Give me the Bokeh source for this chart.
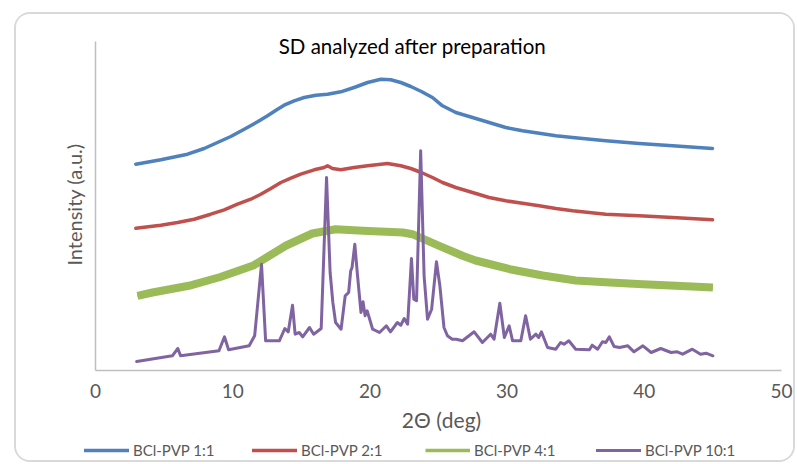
from bokeh.plotting import figure
from bokeh.models import (Range1d, FixedTicker, Label, Legend, LegendItem, InlineStyleSheet,
                          LinearAxis)
from bokeh.embed import file_html
from bokeh.resources import INLINE

# ---- data ----
blue_x = [2.94, 4.76, 6.71, 7.92, 8.89, 9.86, 10.84, 11.81, 12.54, 13.27, 13.75, 14.48, 15.21,
          16.06, 16.91, 17.88, 18.85, 19.83, 20.8, 21.52, 22.25, 22.98, 23.75, 24.56, 25.29,
          26.26, 27.48, 28.69, 29.9, 31.12, 32.34, 33.55, 34.77, 37.19, 39.63, 42.06, 44.97]
blue_y = [206.3, 210.7, 216.3, 222.0, 228.0, 234.0, 241.3, 248.7, 254.7, 261.3, 265.3, 269.7,
          273.0, 275.3, 276.3, 278.7, 283.0, 288.0, 291.3, 290.7, 288.0, 284.0, 279.0, 273.0,
          264.7, 258.0, 253.0, 248.0, 243.0, 239.7, 237.3, 234.7, 233.0, 229.7, 227.0, 224.7,
          222.0]

red_x = [2.94, 4.76, 5.98, 7.19, 8.4, 9.38, 10.35, 11.32, 12.05, 12.78, 13.51, 14.24, 14.96,
         15.94, 16.67, 16.91, 17.27, 17.88, 18.85, 19.83, 21.28, 22.25, 22.98, 23.75, 24.56,
         25.29, 26.26, 27.48, 28.69, 29.9, 31.12, 32.34, 33.55, 34.77, 37.19, 39.63, 42.06,
         44.97]
red_y = [142.3, 145.3, 148.0, 151.3, 156.3, 160.7, 166.3, 171.3, 176.3, 182.0, 188.0, 192.3,
         196.3, 200.7, 203.0, 204.7, 202.0, 200.7, 203.0, 204.7, 207.0, 204.7, 202.0, 198.0,
         193.0, 188.0, 183.0, 178.0, 173.0, 169.7, 167.3, 164.7, 162.0, 159.7, 156.3, 154.7,
         153.0, 150.7]

green_x = [3.06, 4.15, 6.8, 9.1, 11.5, 13.9, 15.8, 17.5, 19.5, 22.4, 23.1, 25.05, 26.75, 27.7,
           30.2, 32.6, 35.0, 37.5, 39.9, 42.3, 45.0]
green_y = [74.7, 78.0, 84.7, 93.5, 105.0, 125.0, 137.0, 141.3, 139.7, 138.0, 136.3, 124.7,
           114.7, 110.0, 101.3, 95.0, 90.0, 88.0, 86.3, 84.7, 83.0]

purple_x = [3.0, 5.6, 6.0, 6.2, 9.0, 9.4, 9.7, 11.2, 11.6, 12.1, 12.4, 13.4, 13.8, 14.05, 14.36,
            14.55, 14.85, 15.1, 15.6, 15.9, 16.45, 16.84, 17.1, 17.3, 17.5, 17.9, 18.2, 18.45,
            18.6, 18.7, 18.9, 19.1, 19.35, 19.5, 19.65, 19.8, 20.2, 20.7, 21.2, 21.5, 22.0,
            22.25, 22.5, 22.75, 23.03, 23.2, 23.4, 23.7, 23.95, 24.2, 24.5, 24.85, 25.1, 25.4,
            25.65, 26.0, 26.3, 26.75, 27.6, 28.2, 28.8, 29.05, 29.47, 29.8, 30.15, 30.4, 31.0,
            31.35, 31.7, 32.1, 32.3, 32.5, 32.95, 33.55, 33.9, 34.15, 34.5, 35.0, 36.0, 36.2,
            36.6, 36.95, 37.2, 37.45, 37.8, 38.2, 38.8, 39.25, 39.9, 40.5, 41.2, 41.95, 42.4,
            42.8, 43.5, 44.1, 44.5, 45.0]
purple_y = [9.0, 14.7, 22.0, 14.7, 19.7, 33.7, 20.7, 24.7, 34.7, 106.3, 29.7, 29.7, 42.0, 38.7,
            65.3, 36.3, 38.0, 33.7, 43.0, 36.3, 42.0, 193.0, 98.0, 68.0, 48.0, 41.3, 74.7, 78.0,
            99.7, 103.0, 126.3, 94.7, 58.0, 68.7, 54.7, 59.7, 41.3, 38.0, 44.7, 38.7, 48.0,
            45.3, 52.0, 46.3, 112.0, 71.3, 69.7, 219.7, 94.7, 51.3, 61.3, 108.7, 84.7, 43.0,
            34.7, 31.3, 31.3, 29.7, 38.7, 28.0, 36.3, 31.3, 67.3, 33.0, 44.7, 29.7, 29.7,
            54.7, 31.3, 36.3, 33.0, 38.7, 23.0, 21.3, 28.0, 26.3, 29.7, 21.3, 20.7, 25.3,
            21.3, 28.7, 28.0, 33.7, 24.0, 23.0, 24.7, 18.7, 24.7, 18.0, 22.0, 18.0, 18.7,
            16.3, 21.3, 16.3, 17.3, 14.7]

series_names = ["BCl-PVP 1:1", "BCl-PVP 2:1", "BCl-PVP 4:1", "BCl-PVP 10:1"]
x_ticks = [0, 10, 20, 30, 40, 50]
title_text = "SD analyzed after preparation"
x_title = "2\u0398 (deg)"
y_title = "Intensity (a.u.)"

colors = ["#4F81BD", "#C0504D", "#9BBB59", "#8064A2"]
FONT = "Lato"
GRAY = "#595959"

# frame covers the whole canvas; axes are placed inside it with fixed_location
PX = 686.0 / 50.0
p = figure(width=781, height=450, margin=(12, 0, 0, 14),
           x_range=Range1d(-79 / PX, 50 + 16 / PX), y_range=Range1d(-94, 356),
           x_axis_location=None, y_axis_location=None,
           output_backend="svg", toolbar_location=None,
           min_border_left=0, min_border_right=0, min_border_top=0, min_border_bottom=0)
p.stylesheets = [InlineStyleSheet(css=":host { border: 2px solid #D9D9D9; border-radius: 16px; overflow: hidden; }")]
p.outline_line_color = None
p.xgrid.grid_line_color = None
p.ygrid.grid_line_color = None
p.background_fill_color = "white"
p.border_fill_color = "white"

xaxis = LinearAxis(fixed_location=0, bounds=(0, 50), ticker=FixedTicker(ticks=x_ticks),
                   major_tick_in=0, major_tick_out=0, minor_tick_line_color=None,
                   axis_line_color="#BFBFBF", axis_line_width=1.5,
                   major_label_text_font=FONT, major_label_text_font_size="19px",
                   major_label_text_color=GRAY, major_label_standoff=13)
p.add_layout(xaxis, "below")

yaxis = LinearAxis(fixed_location=0, bounds=(0, 329), ticker=FixedTicker(ticks=[]),
                   major_tick_line_color=None, minor_tick_line_color=None,
                   major_label_text_font_size="0px",
                   axis_line_color="#BFBFBF", axis_line_width=1.5)
p.add_layout(yaxis, "left")

# thin green line used as the legend sample (hidden under the wide noisy band)
g_leg = p.line(green_x, green_y, line_color=colors[2], line_width=3.5)
r_blue = p.line(blue_x, blue_y, line_color=colors[0], line_width=3.5, line_join="round", line_cap="round")
r_red = p.line(red_x, red_y, line_color=colors[1], line_width=3.5, line_join="round", line_cap="round")
p.line(green_x, green_y, line_color=colors[2], line_width=8, line_join="round")
r_purple = p.line(purple_x, purple_y, line_color=colors[3], line_width=3, line_join="round", line_cap="round")

# texts
p.add_layout(Label(x=23.1, y=325, text=title_text, text_align="center", text_baseline="middle",
                   text_font=FONT, text_font_size="20.5px", text_color="#000000"))
p.add_layout(Label(x=25.2, y=-49, text=x_title, text_align="center", text_baseline="middle",
                   text_font=FONT, text_font_size="21px", text_color=GRAY))
p.add_layout(Label(x=-1.6, y=166, text=y_title, text_align="center", text_baseline="middle",
                   angle=90, angle_units="deg",
                   text_font=FONT, text_font_size="20px", text_color=GRAY))

# legend: one per item for exact placement (location relative to frame bottom-left)
leg_x = [68, 236, 409, 580]
for name, r, vx in zip(series_names, [r_blue, r_red, g_leg, r_purple], leg_x):
    lg = Legend(items=[LegendItem(label=name, renderers=[r])], location=(vx, 5),
                orientation="horizontal", padding=0, margin=0, spacing=0,
                glyph_width=45, glyph_height=18, label_height=18, label_standoff=4,
                label_text_font=FONT, label_text_font_size="15px", label_text_color=GRAY,
                border_line_color=None, background_fill_alpha=0)
    p.add_layout(lg)

open("out.html", "w").write(file_html(p, INLINE))
